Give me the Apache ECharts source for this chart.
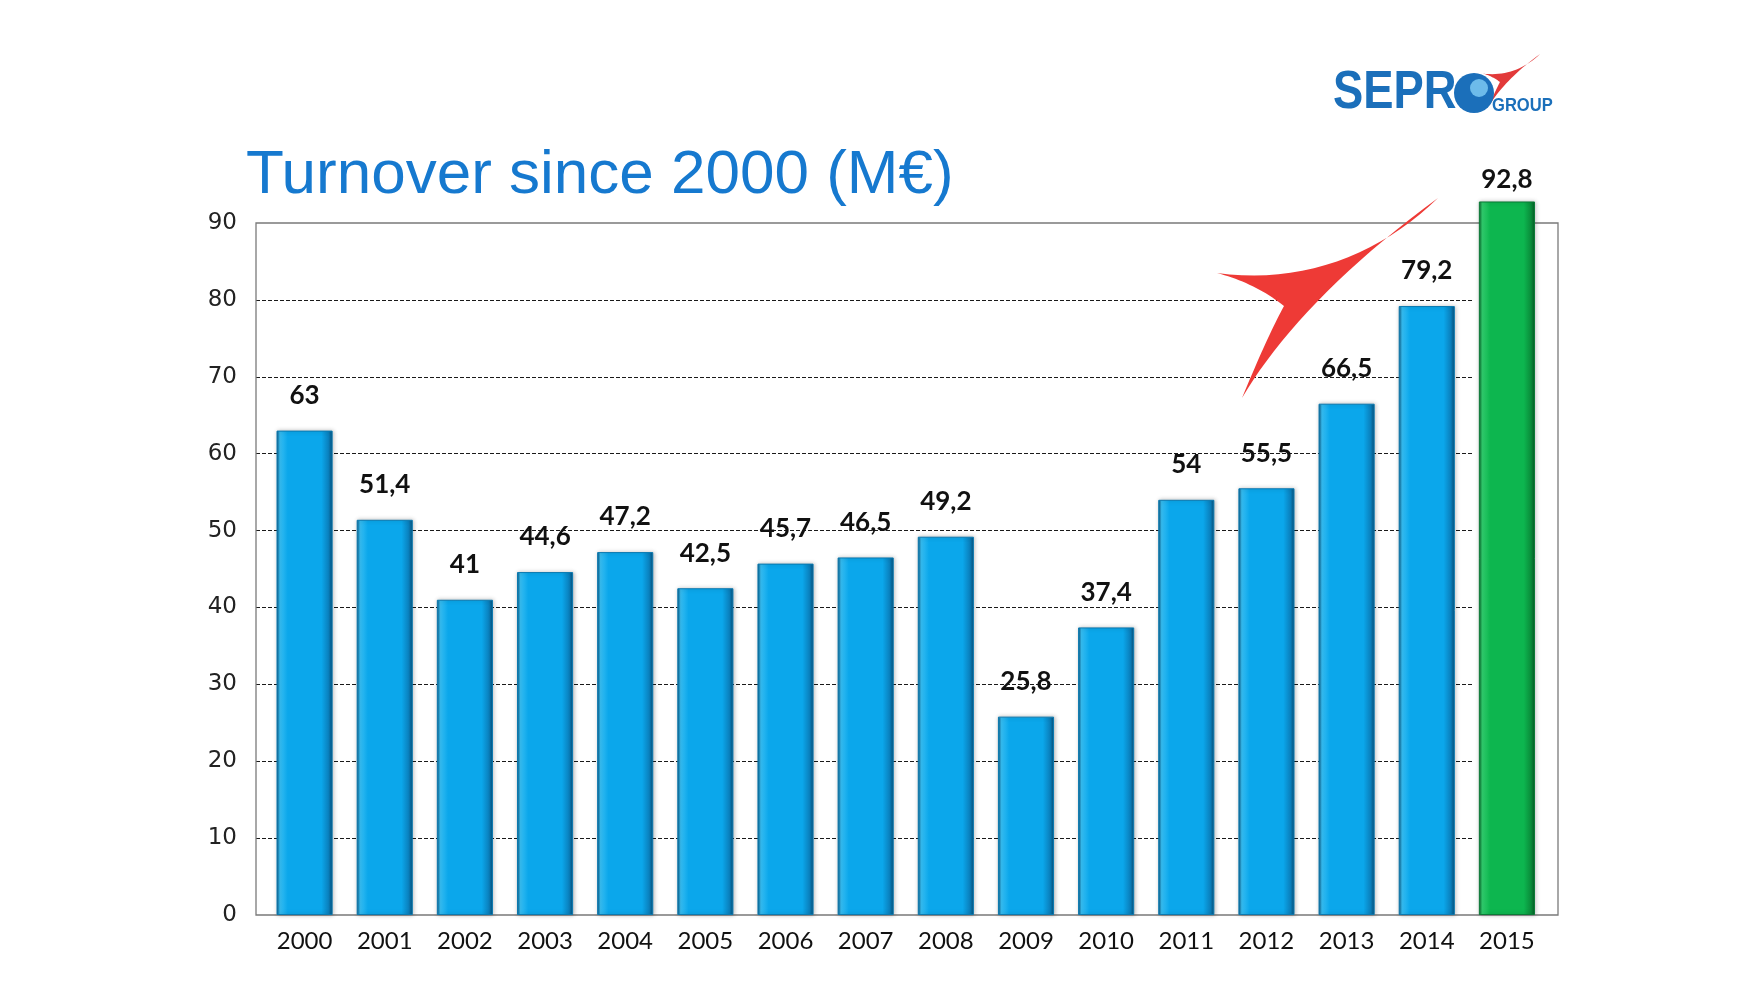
<!DOCTYPE html>
<html><head><meta charset="utf-8">
<script src="https://cdn.jsdelivr.net/npm/echarts@6/dist/echarts.min.js"></script>
<style>html,body{margin:0;padding:0;background:#fff}#c{width:1750px;height:1000px}</style>
</head><body><div id="c"></div>
<script>
const years = ['2000','2001','2002','2003','2004','2005','2006','2007','2008','2009','2010','2011','2012','2013','2014','2015'];
const turnover = [63, 51.4, 41, 44.6, 47.2, 42.5, 45.7, 46.5, 49.2, 25.8, 37.4, 54, 55.5, 66.5, 79.2, 92.8];
const highlightYear = '2015';
const yTicks = { min: 0, max: 90, interval: 10 };
const titleText = 'Turnover since 2000 (M\u20ac)';

function grad(dark, main, light, edge) {
  return new echarts.graphic.LinearGradient(0, 0, 1, 0, [
    { offset: 0, color: edge },
    { offset: 0.06, color: light },
    { offset: 0.2, color: main },
    { offset: 0.8, color: main },
    { offset: 0.93, color: dark },
    { offset: 1, color: edge }
  ]);
}
const blueFill = grad('#0a7fbc', '#0ba7eb', '#36bdf2', '#064f78');
const greenFill = grad('#0a8c3a', '#0db64f', '#30cc6c', '#055c26');

const data = turnover.map((v, i) => {
  const hi = years[i] === highlightYear;
  return {
    value: v,
    itemStyle: { color: hi ? greenFill : blueFill, borderColor: hi ? '#0a7a36' : '#0a79b0' },
    label: { distance: hi ? 9 : 22 }
  };
});

// decorative swoosh outlines (not data)
function outline(segs) {
  const pts = [];
  segs.forEach(s => {
    for (let k = 0; k <= 20; k++) {
      const t = k / 20, u = 1 - t;
      if (s.length === 3) {
        const [p0, c, p1] = s;
        pts.push([u*u*p0[0] + 2*u*t*c[0] + t*t*p1[0], u*u*p0[1] + 2*u*t*c[1] + t*t*p1[1]]);
      } else {
        const [p0, c1, c2, p1] = s;
        pts.push([u*u*u*p0[0] + 3*u*u*t*c1[0] + 3*u*t*t*c2[0] + t*t*t*p1[0],
                  u*u*u*p0[1] + 3*u*u*t*c1[1] + 3*u*t*t*c2[1] + t*t*t*p1[1]]);
      }
    }
  });
  return pts;
}
function swooshAt(ox, oy, s) {
  const P = (x, y) => [ox + (x - 1438) * s, oy + (y - 198) * s];
  return outline([
    [P(1438, 198), P(1380, 255), P(1300, 285), P(1217, 273)],
    [P(1217, 273), P(1255, 283), P(1284, 306)],
    [P(1284, 306), P(1268, 335), P(1242, 398)],
    [P(1242, 398), P(1277, 338), P(1342, 268), P(1438, 198)]
  ]);
}
const bigSwoosh = swooshAt(1438, 198, 1);
const smallSwoosh = swooshAt(1540, 54, 0.26);

const chart = echarts.init(document.getElementById('c'));
const splitColors = [];
for (let v = yTicks.min; v <= yTicks.max; v += yTicks.interval) {
  splitColors.push(v === yTicks.min || v === yTicks.max ? 'rgba(0,0,0,0)' : '#1a1a1a');
}
chart.setOption({
  animation: false,
  backgroundColor: '#fff',
  title: {
    text: titleText,
    left: 241, top: 140,
    textStyle: { fontFamily: 'Liberation Sans', fontWeight: 'normal', fontSize: 62, color: '#1679cf' }
  },
  grid: [
    { left: 256, right: 276, top: 223, bottom: 85 },
    { left: 264.5, right: 203, top: 223, bottom: 85 }
  ],
  xAxis: [
    { gridIndex: 0, type: 'value', show: false, splitLine: { show: false } },
    {
      gridIndex: 1, type: 'category', data: years,
      axisLine: { show: false },
      axisTick: { show: false },
      axisLabel: { fontFamily: 'Lato', fontSize: 24, color: '#111', margin: 14 }
    }
  ],
  yAxis: [
    {
      gridIndex: 0, type: 'value', min: yTicks.min, max: yTicks.max, interval: yTicks.interval,
      axisLine: { show: false },
      axisTick: { show: false },
      axisLabel: { fontFamily: 'DejaVu Sans', fontSize: 23, color: '#222', margin: 19 },
      splitLine: { lineStyle: { type: 'dashed', color: splitColors, width: 1 } }
    },
    {
      gridIndex: 1, type: 'value', min: yTicks.min, max: yTicks.max, interval: yTicks.interval,
      show: false, splitLine: { show: false }
    }
  ],
  series: [{
    type: 'bar',
    xAxisIndex: 1, yAxisIndex: 1,
    data: data,
    barCategoryGap: '30%',
    clip: false,
    z: 3,
    label: {
      show: true, position: 'top',
      fontFamily: 'Lato', fontWeight: 'bold', fontSize: 26, color: '#111',
      formatter: p => String(p.value).replace('.', ',')
    },
    itemStyle: { borderWidth: 1, shadowColor: 'rgba(0,0,0,0.25)', shadowBlur: 4, shadowOffsetX: 1 }
  }],
  graphic: [
    {
      type: 'rect', z: 1, silent: true,
      shape: { x: 256, y: 223, width: 1302, height: 692 },
      style: { fill: 'none', stroke: '#7a7a7a', lineWidth: 1.3 }
    },
    { type: 'polygon', z: 2, shape: { points: bigSwoosh }, style: { fill: '#ee3a36' } },
    { type: 'polygon', z: 1, shape: { points: smallSwoosh }, style: { fill: '#e23a3a' } },
    {
      type: 'text', x: 1333, y: 66, scaleX: 0.84, z: 3,
      style: { text: 'SEPR', fontFamily: 'Liberation Sans', fontWeight: 'bold', fontSize: 54, fill: '#1b6fba' }
    },
    { type: 'circle', z: 3, shape: { cx: 1474, cy: 93, r: 20 }, style: { fill: '#1b6fba' } },
    { type: 'circle', z: 3, shape: { cx: 1479, cy: 88, r: 9 }, style: { fill: '#6dbbea' } },
    {
      type: 'text', x: 1492, y: 97, scaleX: 0.92, z: 3,
      style: { text: 'GROUP', fontFamily: 'Liberation Sans', fontWeight: 'bold', fontSize: 18, fill: '#1b6fba' }
    }
  ]
});
</script></body></html>
